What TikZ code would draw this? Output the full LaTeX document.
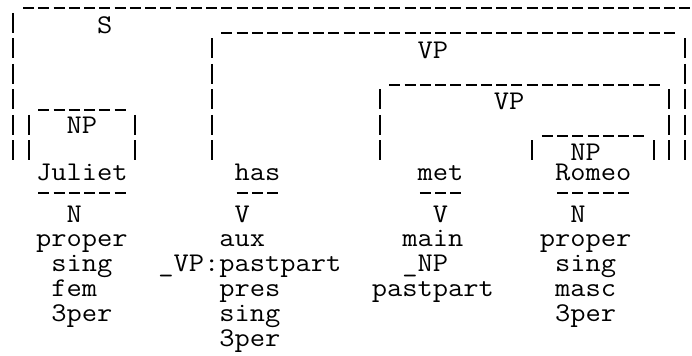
\documentclass[tikz,border=0pt]{standalone}
\usepackage{graphicx}
\newlength\chw
\newcommand\ttsz{\fontsize{27}{27}\selectfont\ttfamily}
\newcommand\tx[1]{\scalebox{\sxf}[1]{\ttsz #1}}
\AtBeginDocument{%
  \sbox0{\ttsz M}\global\chw=\wd0
  \pgfmathsetmacro\tmpsx{15.26/\chw}\global\let\sxf\tmpsx}
\begin{document}
\begin{tikzpicture}[x=15.26pt,y=-1pt,
  lbl/.style={inner sep=0pt,outer sep=0pt,anchor=base west},
  hd/.style={line width=2pt,dash pattern=on 11pt off 4.26pt},
  vd/.style={line width=2pt,dash pattern=on 20pt off 5.5pt}]
\useasboundingbox (-0.3716,0) rectangle (44.977,356);
% box tops
\draw[hd] (1.14,8) -- (44.86,8);
\draw[hd] (14.14,33) -- (43.86,33);
\draw[hd] (25.14,85) -- (42.86,85);
\draw[hd] (2.14,110) -- (7.86,110);
\draw[hd] (35.14,136) -- (41.86,136);
% box sides
\draw[vd] (0.5,13) -- (0.5,160.5);
\draw[vd] (13.5,38.5) -- (13.5,160.5);
\draw[vd] (44.5,38.5) -- (44.5,160.5);
\draw[vd] (24.5,89.5) -- (24.5,160.5);
\draw[vd] (43.5,89.5) -- (43.5,160.5);
\draw[vd] (1.5,115) -- (1.5,160.5);
\draw[vd] (8.5,115) -- (8.5,160.5);
\draw[vd] (34.5,140.5) -- (34.5,160.5);
\draw[vd] (42.5,140.5) -- (42.5,160.5);
% labels
\node[lbl] (S) at (6,33.5) {\tx{S}};
\node[lbl] (VPa) at (27,58.5) {\tx{VP}};
\node[lbl] (VPb) at (32,110) {\tx{VP}};
\node[lbl] (NPa) at (4,134) {\tx{NP}};
\node[lbl] (NPb) at (37,160.5) {\tx{NP}};
% words
\node[lbl] (wJ) at (2,180.5) {\tx{Juliet}};
\node[lbl] (wH) at (15,180.5) {\tx{has}};
\node[lbl] (wM) at (27,180.5) {\tx{met}};
\node[lbl] (wR) at (36,180.5) {\tx{Romeo}};
% underlines
\draw[hd] (2.14,193) -- (7.86,193);
\draw[hd] (15.14,193) -- (17.86,193);
\draw[hd] (27.14,193) -- (29.86,193);
\draw[hd] (36.14,193) -- (40.86,193);
% features
\node[lbl] (fJ1) at (4,223) {\tx{N}};
\node[lbl] (fJ2) at (2,247) {\tx{proper}};
\node[lbl] (fJ3) at (3,272) {\tx{sing}};
\node[lbl] (fJ4) at (3,297) {\tx{fem}};
\node[lbl] (fJ5) at (3,322) {\tx{3per}};
\node[lbl] (fH1) at (15,223) {\tx{V}};
\node[lbl] (fH2) at (14,247) {\tx{aux}};
\node[lbl] (fH3) at (10,272) {\tx{\_VP:pastpart}};
\node[lbl] (fH4) at (14,297) {\tx{pres}};
\node[lbl] (fH5) at (14,322) {\tx{sing}};
\node[lbl] (fH6) at (14,347) {\tx{3per}};
\node[lbl] (fM1) at (28,223) {\tx{V}};
\node[lbl] (fM2) at (26,247) {\tx{main}};
\node[lbl] (fM3) at (26,272) {\tx{\_NP}};
\node[lbl] (fM4) at (24,297) {\tx{pastpart}};
\node[lbl] (fR1) at (37,223) {\tx{N}};
\node[lbl] (fR2) at (35,247) {\tx{proper}};
\node[lbl] (fR3) at (36,272) {\tx{sing}};
\node[lbl] (fR4) at (36,297) {\tx{masc}};
\node[lbl] (fR5) at (36,322) {\tx{3per}};
\end{tikzpicture}
\end{document}
